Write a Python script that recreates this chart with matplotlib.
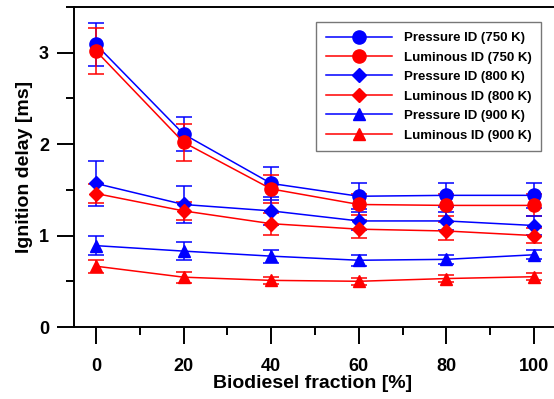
import matplotlib
matplotlib.use("Agg")
import matplotlib.pyplot as plt
from matplotlib.ticker import MultipleLocator
from matplotlib.lines import Line2D

plt.rcParams['font.family'] = ['Liberation Sans', 'DejaVu Sans']
plt.rcParams['font.weight'] = 'bold'

fraction = [0, 20, 40, 60, 80, 100]

p750 = [3.09, 2.11, 1.57, 1.43, 1.44, 1.44]
p750_err = [0.24, 0.19, 0.18, 0.14, 0.13, 0.14]
l750 = [3.02, 2.02, 1.51, 1.34, 1.33, 1.33]
l750_err = [0.25, 0.20, 0.15, 0.12, 0.12, 0.12]
p800 = [1.57, 1.34, 1.27, 1.16, 1.16, 1.11]
p800_err = [0.25, 0.20, 0.15, 0.10, 0.10, 0.10]
l800 = [1.46, 1.27, 1.13, 1.07, 1.05, 1.00]
l800_err = [0.10, 0.10, 0.12, 0.10, 0.10, 0.08]
p900 = [0.89, 0.83, 0.775, 0.73, 0.74, 0.79]
p900_err = [0.10, 0.10, 0.07, 0.06, 0.05, 0.05]
l900 = [0.665, 0.545, 0.51, 0.50, 0.53, 0.55]
l900_err = [0.07, 0.06, 0.04, 0.04, 0.04, 0.04]

labels = ["Pressure ID (750 K)", "Luminous ID (750 K)",
          "Pressure ID (800 K)", "Luminous ID (800 K)",
          "Pressure ID (900 K)", "Luminous ID (900 K)"]

series = [(p750, p750_err, 'o', 9.5, 'blue'),
          (l750, l750_err, 'o', 9.5, 'red'),
          (p800, p800_err, 'D', 7.5, 'blue'),
          (l800, l800_err, 'D', 7.5, 'red'),
          (p900, p900_err, '^', 8.5, 'blue'),
          (l900, l900_err, '^', 8.5, 'red')]

W, H = 554, 399
fig = plt.figure(figsize=(W / 100, H / 100), dpi=100)
left, right, top, bottom = 74, 556, 7, 327
ax = fig.add_axes([left / W, 1 - bottom / H, (right - left) / W, (bottom - top) / H])

handles = []
for (vals, errs, m, ms, c), lab in zip(series, labels):
    ax.errorbar(fraction, vals, yerr=errs, marker=m, ms=ms, color=c, lw=1.1,
                elinewidth=1.1, capsize=6, capthick=1.1)
    handles.append(Line2D([], [], marker=m, ms=ms, color=c, lw=1.1, label=lab))

ax.set_xlim(-5, 105)
ax.set_ylim(0, 3.5)
ax.set_xticks(fraction)
ax.xaxis.set_minor_locator(MultipleLocator(10))
ax.set_yticks([0, 1, 2, 3])
ax.yaxis.set_minor_locator(MultipleLocator(0.5))
ax.spines['right'].set_visible(False)
for s in ['left', 'top', 'bottom']:
    ax.spines[s].set_linewidth(1.4)
ax.tick_params(axis='both', which='major', length=12, width=1.4, labelsize=13, direction='out')
ax.tick_params(axis='both', which='minor', length=6, width=1.4, direction='out')
ax.tick_params(axis='x', which='major', pad=10)
ax.tick_params(axis='y', which='major', pad=6)

ax.set_xlabel("Biodiesel fraction [%]", fontsize=14, fontweight='bold')
ax.set_ylabel("Ignition delay [ms]", fontsize=14, fontweight='bold')
ax.xaxis.set_label_coords((313 - left) / (right - left), -(383 - bottom) / (bottom - top), transform=ax.transAxes)
ax.yaxis.set_label_coords(-(left - 25) / (right - left), 0.5)
ax.xaxis.label.set_va('center')
ax.yaxis.label.set_va('center')

leg = ax.legend(handles=handles, loc='upper left',
                bbox_to_anchor=((316 - left) / (right - left), (bottom - 22) / (bottom - top)),
                fontsize=9.5, frameon=True, fancybox=False, edgecolor='#555555',
                handlelength=5.0, handletextpad=0.9, labelspacing=0.55,
                borderpad=0.75, borderaxespad=0)
leg.get_frame().set_linewidth(1.0)

fig.savefig("out.png", dpi=100)
